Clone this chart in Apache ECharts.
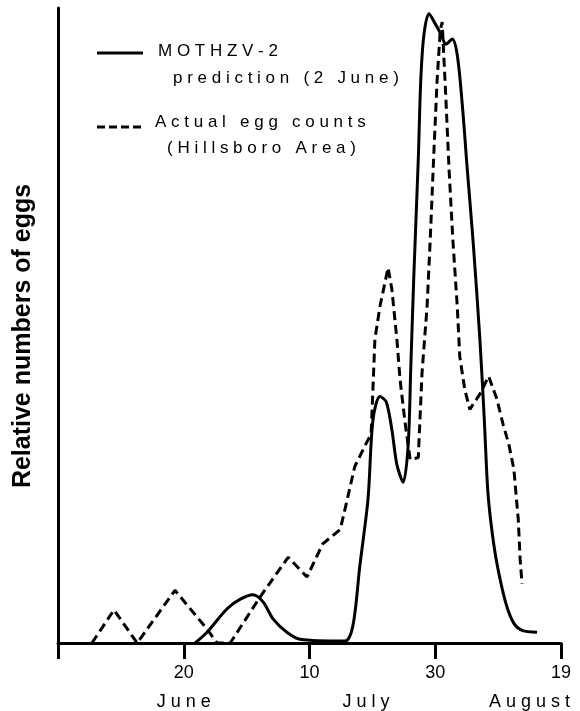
<!DOCTYPE html>
<html>
<head>
<meta charset="utf-8">
<script src="https://cdn.jsdelivr.net/npm/echarts@6/dist/echarts.min.js"></script>
<style>
  html, body { margin: 0; padding: 0; background: #fff; }
  #chart { width: 580px; height: 711px; }
</style>
</head>
<body>
<div id="chart"></div>
<script>
// Day numbers count from 31 May (day 0); ticks every 20 days.
const tickDays = [0, 20, 40, 60, 80];
const tickLabels = ['', '20', '10', '30', '19'];
const monthDays = [20, 49, 75];
const monthNames = ['June', 'July', 'August'];

// MOTHZV-2 prediction (2 June)
const predDays = [21.8, 23.7, 26.9, 29.0, 31.0, 32.6, 34.2, 36.4, 38.5, 45.6, 46.9, 48.0, 49.3, 50.1, 51.2, 52.2, 53.1, 53.9, 54.9, 55.7, 56.1, 56.6, 57.3, 57.7, 58.2, 59.0, 60.0, 60.9, 61.7, 62.7, 63.5, 64.3, 65.1, 66.0, 67.1, 67.8, 68.4, 69.3, 70.3, 71.4, 72.5, 73.8, 76.2];
const predValues = [0, 1.7, 5.4, 6.9, 7.6, 6.5, 3.8, 1.7, 0.6, 0.3, 2.7, 12.1, 22.6, 35.2, 38.8, 38.0, 33.6, 28.1, 25.3, 31.3, 43.1, 58.0, 76.1, 88.7, 95.8, 99.1, 97.5, 95.9, 94.3, 95.1, 92.6, 84.8, 74.5, 63.5, 47.8, 35.2, 23.4, 15.6, 10.1, 5.7, 3.1, 2.0, 1.7];

// Actual egg counts (Hillsboro Area)
const actualDays = [5.4, 8.9, 12.6, 18.6, 23.7, 25.3, 27.4, 32.1, 36.6, 39.6, 42.1, 44.9, 46.0, 47.2, 49.1, 49.8, 50.4, 51.2, 52.5, 53.1, 53.9, 54.4, 55.2, 56.0, 57.3, 57.9, 58.7, 59.2, 59.8, 60.3, 60.8, 61.1, 61.7, 62.2, 62.8, 63.5, 63.9, 64.7, 65.5, 67.1, 68.5, 69.8, 70.8, 71.7, 72.5, 73.2, 73.5, 73.8];
const actualValues = [0, 5.2, 0, 8.3, 2.2, 0, 0, 7.2, 13.5, 10.4, 15.6, 17.9, 22.6, 27.8, 31.6, 32.9, 47.8, 53.0, 59.1, 55.7, 47.8, 41.5, 34.7, 28.9, 29.2, 42.6, 53.0, 63.5, 77.7, 88.7, 96.5, 97.8, 85.5, 74.5, 63.5, 53.0, 45.1, 39.9, 36.8, 39.2, 42.0, 38.4, 34.4, 31.3, 27.4, 19.5, 13.2, 9.3];

const FONT = '"Liberation Sans", Arial, Helvetica, sans-serif';
const spaced = s => s.split('').join(' ');
const pairs = (xs, ys) => xs.map((x, i) => [x, ys[i]]);

const chart = echarts.init(document.getElementById('chart'), null, { renderer: 'canvas' });

chart.setOption({
  animation: false,
  backgroundColor: '#fff',
  grid: { left: 58, right: 19, top: 8, bottom: 67, containLabel: false },
  xAxis: [
    {
      type: 'value', position: 'bottom', min: 0, max: 80, interval: 20,
      axisLine: { show: true, onZero: false, lineStyle: { color: '#000', width: 3 } },
      axisTick: { show: true, length: 16, lineStyle: { color: '#000', width: 3 } },
      axisLabel: {
        margin: 21, color: '#000', fontFamily: FONT, fontSize: 18,
        formatter: v => tickLabels[tickDays.indexOf(v)] || ''
      },
      splitLine: { show: false }
    },
    {
      type: 'value', position: 'bottom', min: 0, max: 80,
      axisLine: { show: false }, axisTick: { show: false }, splitLine: { show: false },
      axisLabel: {
        customValues: monthDays, margin: 50, color: '#000', fontFamily: FONT, fontSize: 18,
        formatter: v => spaced(monthNames[monthDays.indexOf(v)] || '')
      }
    }
  ],
  yAxis: {
    type: 'value', min: 0, max: 100,
    axisLine: { show: true, lineStyle: { color: '#000', width: 3 } },
    axisTick: { show: false }, axisLabel: { show: false }, splitLine: { show: false }
  },
  series: [
    {
      name: 'MOTHZV-2 prediction (2 June)', type: 'line', xAxisIndex: 0,
      data: pairs(predDays, predValues), showSymbol: false, symbol: 'none',
      smooth: 0.3, lineStyle: { color: '#000', width: 3 }, z: 5
    },
    {
      name: 'Actual egg counts (Hillsboro Area)', type: 'line', xAxisIndex: 0,
      data: pairs(actualDays, actualValues), showSymbol: false, symbol: 'none',
      smooth: false, lineStyle: { color: '#000', width: 3, type: [9, 5] }, z: 4
    }
  ],
  graphic: [
    {
      type: 'text', x: 23, y: 336, rotation: Math.PI / 2,
      style: { text: 'Relative numbers of eggs', font: 'bold 25px ' + FONT, fill: '#000', align: 'center', verticalAlign: 'middle' }
    },
    { type: 'line', shape: { x1: 97, y1: 53, x2: 143, y2: 53 }, style: { stroke: '#000', lineWidth: 3 } },
    { type: 'text', x: 158, y: 51, style: { text: spaced('MOTHZV-2'), font: '17px ' + FONT, fill: '#000', align: 'left', verticalAlign: 'middle' } },
    { type: 'text', x: 173, y: 78, style: { text: spaced('prediction (2 June)'), font: '17px ' + FONT, fill: '#000', align: 'left', verticalAlign: 'middle' } },
    { type: 'line', shape: { x1: 97, y1: 127, x2: 143, y2: 127 }, style: { stroke: '#000', lineWidth: 3, lineDash: [8, 4] } },
    { type: 'text', x: 155, y: 122, style: { text: spaced('Actual egg counts'), font: '17px ' + FONT, fill: '#000', align: 'left', verticalAlign: 'middle' } },
    { type: 'text', x: 167, y: 148, style: { text: spaced('(Hillsboro Area)'), font: '17px ' + FONT, fill: '#000', align: 'left', verticalAlign: 'middle' } }
  ]
});
</script>
</body>
</html>
